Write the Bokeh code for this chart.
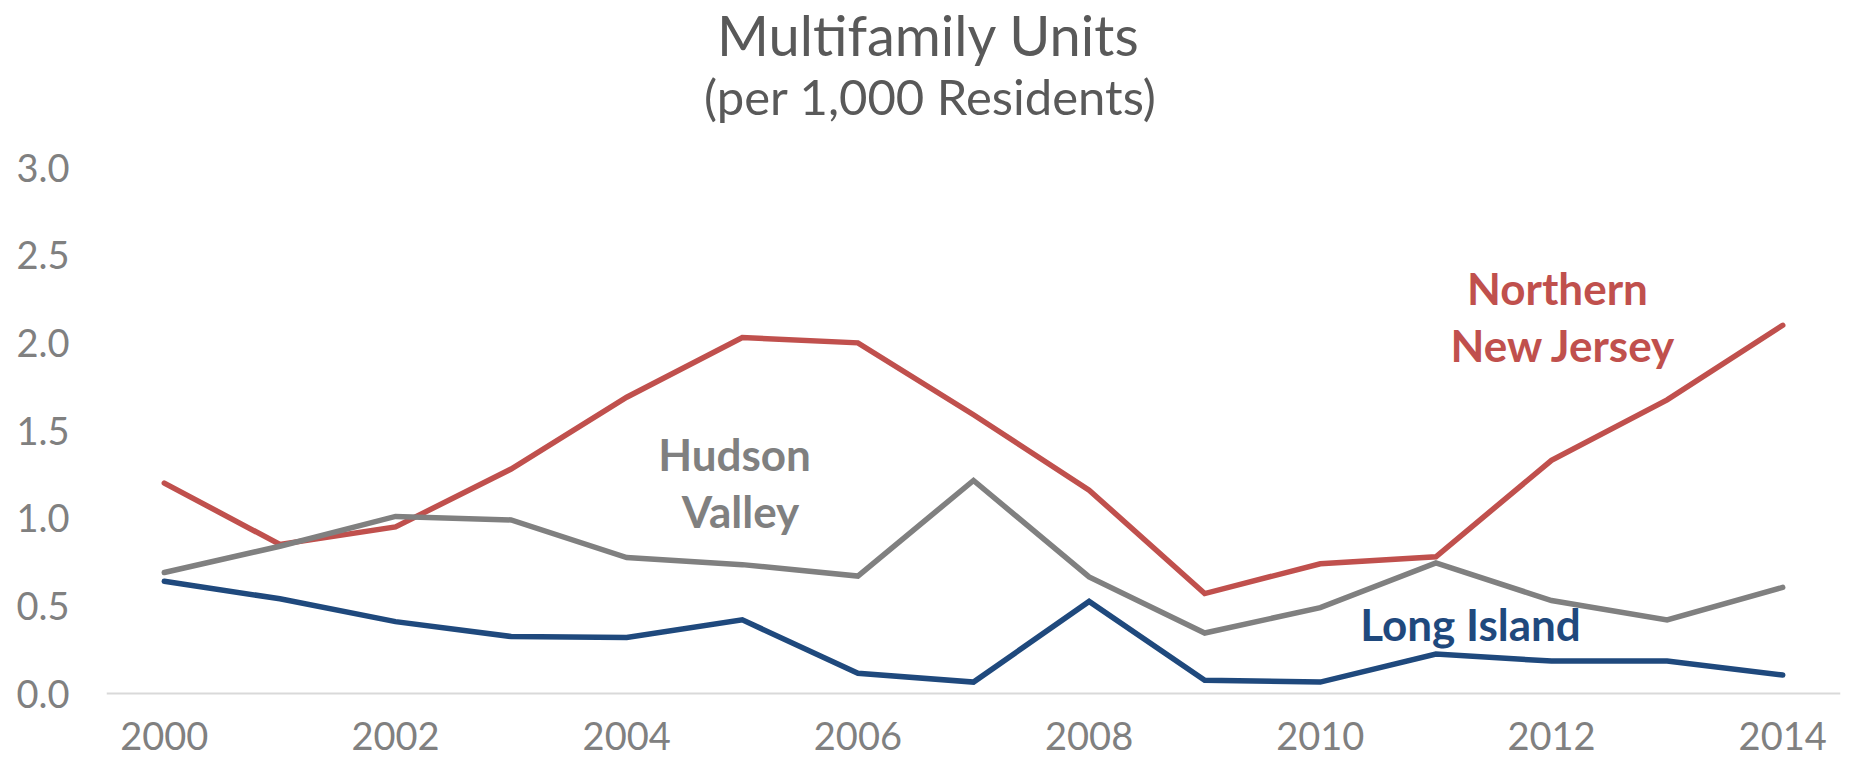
from bokeh.plotting import figure
from bokeh.models import Range1d, FixedTicker, Label, NumeralTickFormatter
from bokeh.embed import file_html
from bokeh.resources import INLINE

# ---- data ----
years = list(range(2000, 2015))
northern_nj = [1.20, 0.85, 0.95, 1.28, 1.69, 2.03, 2.00, 1.59, 1.16, 0.57, 0.74, 0.78, 1.33, 1.675, 2.10]
hudson_valley = [0.69, 0.84, 1.01, 0.99, 0.775, 0.735, 0.67, 1.215, 0.665, 0.345, 0.49, 0.745, 0.53, 0.42, 0.605]
long_island = [0.64, 0.54, 0.41, 0.325, 0.32, 0.42, 0.115, 0.065, 0.525, 0.075, 0.065, 0.225, 0.185, 0.185, 0.105]
x_tick_years = [2000, 2002, 2004, 2006, 2008, 2010, 2012, 2014]
y_ticks = [0.0, 0.5, 1.0, 1.5, 2.0, 2.5, 3.0]

title_text = "Multifamily Units"
subtitle_text = "(per 1,000 Residents)"

RED = "#C0504D"
GRAY = "#808080"
BLUE = "#1F497D"
TITLE_COLOR = "#595959"
TICK_COLOR = "#808080"
FONT = "Lato"

# ---- layout (pixels) ----
W, H = 1852, 759
LEFT, RIGHT = 106, 12          # frame spans x 106..1840
ZERO_PX = 693                  # pixel row of value 0
PX_PER_UNIT = 175.33           # pixels per 1.0 on the value axis
X0, X1 = 1999.5, 2014.5
Y0 = -(H - ZERO_PX) / PX_PER_UNIT
Y1 = ZERO_PX / PX_PER_UNIT
FW = W - LEFT - RIGHT

p = figure(width=W, height=H, output_backend="svg", toolbar_location=None,
           x_range=Range1d(X0, X1), y_range=Range1d(Y0, Y1),
           min_border_left=LEFT, min_border_right=RIGHT,
           min_border_top=0, min_border_bottom=0)
p.outline_line_color = None
p.xgrid.visible = False
p.ygrid.visible = False
p.background_fill_color = "white"
p.border_fill_color = "white"

# x axis (baseline at 0)
p.xaxis.fixed_location = 0
p.xaxis.ticker = FixedTicker(ticks=x_tick_years)
p.xaxis.axis_line_color = "#D9D9D9"
p.xaxis.axis_line_width = 2
p.xaxis.major_tick_line_color = None
p.xaxis.minor_tick_line_color = None
p.xaxis.major_tick_out = 0
p.xaxis.major_tick_in = 0
p.xaxis.major_label_standoff = 28
p.xaxis.major_label_text_font = FONT
p.xaxis.major_label_text_font_size = "38px"
p.xaxis.major_label_text_color = TICK_COLOR

# y axis
p.yaxis.ticker = FixedTicker(ticks=y_ticks)
p.yaxis.formatter = NumeralTickFormatter(format="0.0")
p.yaxis.axis_line_color = None
p.yaxis.major_tick_line_color = None
p.yaxis.minor_tick_line_color = None
p.yaxis.major_tick_out = 0
p.yaxis.major_tick_in = 0
p.yaxis.major_label_standoff = 37
p.yaxis.major_label_text_font = FONT
p.yaxis.major_label_text_font_size = "38px"
p.yaxis.major_label_text_color = TICK_COLOR

# series
for vals, col in [(long_island, BLUE), (northern_nj, RED), (hudson_valley, GRAY)]:
    p.line(years, vals, line_color=col, line_width=5.5, line_cap="round", line_join="miter")


def at(fx, fy):
    """convert a pixel position on the page to data coordinates"""
    x = X0 + (fx - LEFT) * (X1 - X0) / FW
    y = (ZERO_PX - fy) / PX_PER_UNIT
    return x, y


def add_text(txt, fx, fy, size, color, bold=False):
    # fy is the wanted baseline row; Label's anchor sits ~0.42 em below it
    x, y = at(fx, fy - 0.42 * size)
    p.add_layout(Label(x=x, y=y, text=txt, text_align="center", text_baseline="alphabetic",
                       text_font=FONT, text_font_size=f"{size}px", text_color=color,
                       text_font_style="bold" if bold else "normal"))


add_text(title_text, 928, 58, 56, TITLE_COLOR)
add_text(subtitle_text, 930, 116, 49, TITLE_COLOR)
add_text("Northern", 1557, 306, 44, RED, True)
add_text("New Jersey", 1563, 363, 44, RED, True)
add_text("Hudson", 734, 472, 44, GRAY, True)
add_text("Valley", 740, 529, 44, GRAY, True)
add_text("Long Island", 1470, 642, 44, BLUE, True)

open("out.html", "w").write(file_html(p, INLINE))
